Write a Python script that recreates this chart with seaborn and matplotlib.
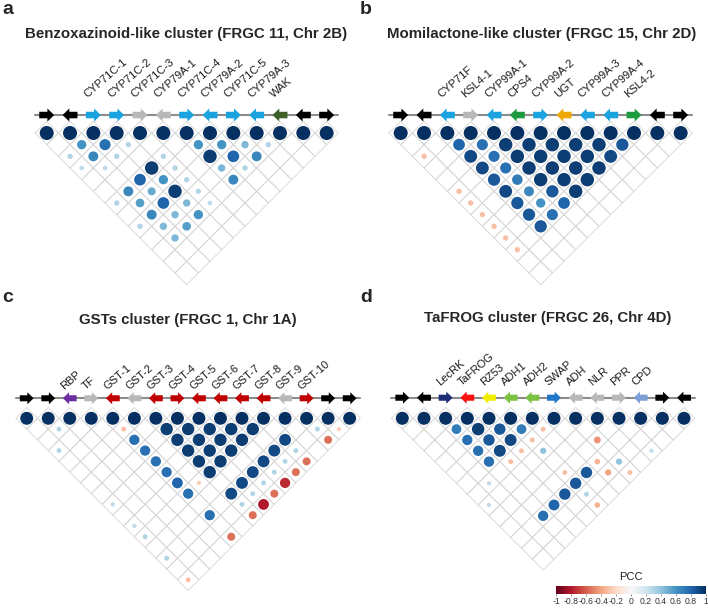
import numpy as np
import pandas as pd
import seaborn as sns
import matplotlib.pyplot as plt
from matplotlib.colors import Normalize
from matplotlib.cm import ScalarMappable

sns.set_style("white")
plt.rcParams["font.family"] = ["Liberation Sans", "DejaVu Sans"]

W, H = 708, 608

arrow_colors = {
    "k": "#000000", "cyp": "#1aa3df", "grey": "#b8b8b8", "wak": "#3f5f28",
    "green": "#1b9a3e", "ugt": "#eea800", "rbp": "#6b2fa0", "gst": "#c00000",
    "lec": "#1c2d78", "frog": "#ff1010", "rz": "#f2ee00", "adh": "#7cc242",
    "swap": "#1f77c9", "cpd": "#7d9fd5",
}

# panel a
a_genes = ["", "", "CYP71C-1", "CYP71C-2", "CYP71C-3", "CYP79A-1", "CYP71C-4",
           "CYP79A-2", "CYP71C-5", "CYP79A-3", "WAK", "", ""]
a_dirs = [1, -1, 1, 1, 1, -1, 1, -1, 1, -1, -1, -1, 1]
a_cols = ["k", "k", "cyp", "cyp", "grey", "grey", "cyp", "cyp", "cyp", "cyp", "wak", "k", "k"]
a_pcc = [(1, 2, 0.6), (2, 3, 0.75), (3, 4, 0.3), (6, 7, 0.6), (7, 8, 0.6), (8, 9, 0.45),
         (9, 10, 0.3), (0, 2, 0.3), (1, 3, 0.65), (2, 4, 0.3), (4, 6, 0.3), (6, 8, 0.95),
         (7, 9, 0.8), (8, 10, 0.65), (0, 3, 0.25), (1, 4, 0.25), (3, 6, 0.95), (4, 7, 0.3),
         (6, 9, 0.45), (7, 10, 0.3), (2, 6, 0.8), (3, 7, 0.6), (4, 8, 0.3), (6, 10, 0.65),
         (1, 6, 0.65), (2, 7, 0.5), (3, 8, 0.95), (4, 9, 0.3), (0, 6, 0.3), (1, 7, 0.55),
         (2, 8, 0.8), (3, 9, 0.45), (4, 10, 0.25), (1, 8, 0.65), (2, 9, 0.45), (3, 10, 0.6),
         (0, 8, 0.3), (1, 9, 0.45), (2, 10, 0.55), (1, 10, 0.45)]

# panel b
b_genes = ["", "", "CYP71F", "KSL4-1", "CYP99A-1", "CPS4", "CYP99A-2", "UGT",
           "CYP99A-3", "CYP99A-4", "KSL4-2", "", ""]
b_dirs = [1, -1, -1, 1, -1, -1, 1, -1, -1, -1, 1, -1, 1]
b_cols = ["k", "k", "cyp", "grey", "cyp", "green", "cyp", "ugt", "cyp", "cyp", "green", "k", "k"]
# block of genes 2..10, one row per gene i, values for j = i+1 .. 10
b_block = [
    [0.8, 0.9, 0.9, 0.85, 0.9, 0.85, 0.85, 0.85],
    [0.75, 0.75, 0.75, 0.7, 0.65, 0.6, 0.75],
    [0.95, 0.95, 0.95, 0.95, 0.85, 0.8],
    [0.95, 0.95, 0.95, 0.95, 0.95],
    [0.95, 0.95, 0.95, 0.95],
    [0.95, 0.95, 0.95],
    [0.95, 0.9],
    [0.85],
]
b_pcc = [(i + 2, i + 3 + k, v) for i, row in enumerate(b_block) for k, v in enumerate(row)]
b_pcc += [(0, 2, -0.3), (0, 5, -0.3), (0, 6, -0.3), (0, 7, -0.3), (0, 8, -0.3),
          (0, 9, -0.3), (0, 10, -0.3)]

# panel c
c_genes = ["", "", "RBP", "TF", "GST-1", "GST-2", "GST-3", "GST-4", "GST-5", "GST-6",
           "GST-7", "GST-8", "GST-9", "GST-10", "", ""]
c_dirs = [1, 1, -1, 1, -1, -1, -1, 1, -1, -1, -1, -1, -1, 1, 1, 1]
c_cols = ["k", "k", "rbp", "grey", "gst", "grey", "gst", "gst", "gst", "gst", "gst",
          "gst", "grey", "gst", "k", "k"]
c_pcc = [(1, 2, 0.3), (4, 5, -0.3), (13, 14, 0.3), (14, 15, -0.25), (0, 3, 0.3),
         (4, 6, 0.75), (4, 7, 0.75), (4, 8, 0.75), (4, 9, 0.75), (4, 10, 0.8),
         (4, 11, 0.75), (4, 13, 0.75), (5, 11, -0.25),
         (6, 13, 0.9), (7, 13, 0.9), (8, 13, 0.9), (9, 13, 0.9), (10, 13, 0.9), (11, 13, 0.9),
         (6, 14, 0.3), (7, 14, 0.3), (8, 14, 0.3), (9, 14, 0.3), (10, 14, 0.3), (11, 14, 0.3),
         (13, 15, -0.55), (11, 15, -0.55), (10, 15, -0.55), (9, 15, -0.75), (8, 15, -0.55),
         (7, 15, -0.8), (6, 15, -0.55), (4, 15, -0.55),
         (0, 8, 0.25), (0, 10, 0.25), (0, 11, 0.3), (0, 13, 0.3), (0, 15, -0.3)]
for i in range(6, 12):
    for j in range(i + 1, 12):
        c_pcc.append((i, j, 0.95))

# panel d
d_genes = ["", "", "LecRK", "TaFROG", "RZ53", "ADH1", "ADH2", "SWAP", "ADH", "NLR",
           "PPR", "CPD", "", ""]
d_dirs = [1, -1, 1, -1, -1, -1, -1, 1, -1, -1, 1, -1, 1, -1]
d_cols = ["k", "k", "lec", "frog", "rz", "adh", "adh", "swap", "grey", "grey", "grey",
          "cpd", "k", "k"]
d_pcc = [(2, 3, 0.7), (3, 4, 0.95), (4, 5, 0.85), (5, 6, 0.7), (6, 7, -0.3),
         (2, 4, 0.75), (3, 5, 0.85), (4, 6, 0.9), (5, 7, -0.3), (8, 10, -0.45),
         (2, 5, 0.75), (3, 6, 0.9), (4, 7, -0.3), (5, 8, 0.4), (10, 13, 0.25),
         (2, 6, 0.75), (3, 7, -0.3), (7, 11, -0.35), (8, 12, 0.4),
         (5, 10, -0.3), (6, 11, 0.85), (7, 12, -0.4), (8, 13, -0.3),
         (1, 7, 0.25), (5, 11, 0.85), (4, 11, 0.85), (5, 12, 0.3),
         (0, 8, 0.25), (3, 11, 0.8), (5, 13, -0.35), (2, 11, 0.75)]

pcc_ticks = [-1, -0.8, -0.6, -0.4, -0.2, 0, 0.2, 0.4, 0.6, 0.8, 1]
pcc_ticklabels = ["-1", "-0.8", "-0.6", "-0.4", "-0.2", "0", "0.2", "0.4", "0.6", "0.8", "1"]

panels = [
    ("a", "Benzoxazinoid-like cluster (FRGC 11, Chr 2B)", a_genes, a_dirs, a_cols, a_pcc,
     46.7, 23.33, 133, 0.77, 0.75, (8, 10), (186, 34)),
    ("b", "Momilactone-like cluster (FRGC 15, Chr 2D)", b_genes, b_dirs, b_cols, b_pcc,
     400.7, 23.33, 133, 0.77, 0.75, (366, 10), (542, 34)),
    ("c", "GSTs cluster (FRGC 1, Chr 1A)", c_genes, c_dirs, c_cols, c_pcc,
     26.7, 21.53, 418.3, 0.93, 0.4, (8, 297), (188, 320)),
    ("d", "TaFROG cluster (FRGC 26, Chr 4D)", d_genes, d_dirs, d_cols, d_pcc,
     402.3, 21.67, 418.3, 0.95, 0.55, (366, 297), (548, 318)),
]

fig = plt.figure(figsize=(W / 100, H / 100), dpi=100)

for letter, title, genes, dirs, cols, pcc, x0, s, ydiag, ay, lab_off, lxy, txy in panels:
    n = len(genes)
    ytop = 3.6
    ybot = -(n - 1) / 2 - 1
    top_px = ydiag - ytop * s
    bot_px = ydiag - ybot * s
    ax = fig.add_axes([(x0 - s) / W, 1 - bot_px / H, (n + 1) * s / W, (bot_px - top_px) / H])

    # diamond grid
    for i in range(n):
        for j in range(i, n):
            cx, cy = (i + j) / 2, -(j - i) / 2
            ax.plot([cx - .5, cx, cx + .5, cx, cx - .5], [cy, cy + .5, cy, cy - .5, cy],
                    color="#d6d6d6", lw=0.6, zorder=1)

    df = pd.DataFrame(pcc + [(k, k, 1.0) for k in range(n)], columns=["i", "j", "r"])
    df["x"] = (df["i"] + df["j"]) / 2
    df["y"] = -(df["j"] - df["i"]) / 2
    sizes = (0.6 * df["r"].abs().to_numpy() ** 0.8 * s * 0.72) ** 2
    sns.scatterplot(data=df, x="x", y="y", hue="r", palette="RdBu", hue_norm=(-1, 1),
                    s=sizes, linewidth=0, legend=False, ax=ax, zorder=3)

    # genes on the chromosome
    ax.plot([-0.5, n - 0.5], [ay, ay], color="#8c8c8c", lw=1.5, zorder=2)
    for k in range(n):
        px = np.array([-0.32, 0.03, 0.03, 0.32, 0.03, 0.03, -0.32]) * dirs[k] + k
        py = np.array([-0.14, -0.14, -0.28, 0, 0.28, 0.14, 0.14]) + ay
        ax.fill(px, py, color=arrow_colors[cols[k]], lw=0, zorder=3)
        if genes[k]:
            ax.text(k - 0.24, ay + lab_off, genes[k], rotation=41, rotation_mode="anchor",
                    ha="left", va="baseline", fontsize=8, color="#1a1a1a")

    ax.set_xlim(-1, n)
    ax.set_ylim(ybot, ytop)
    ax.axis("off")

    fig.text(lxy[0] / W, 1 - lxy[1] / H, letter, fontsize=14, fontweight="bold",
             ha="center", va="center")
    fig.text(txy[0] / W, 1 - txy[1] / H, title, fontsize=10.8, fontweight="bold",
             ha="center", va="center")

# colour key
cax = fig.add_axes([556 / W, 1 - 594 / H, 150 / W, 8 / H])
cb = fig.colorbar(ScalarMappable(norm=Normalize(-1, 1), cmap="RdBu"), cax=cax,
                  orientation="horizontal")
cb.set_ticks(pcc_ticks)
cb.set_ticklabels(pcc_ticklabels)
cb.outline.set_visible(False)
cax.tick_params(length=1.5, width=0.5, color="#666666", labelsize=6.2, pad=1,
                labelcolor="#333333")
fig.text(631 / W, 1 - 577 / H, "PCC", fontsize=8, ha="center", va="center", color="#222222")

fig.savefig("out.png", dpi=100)
